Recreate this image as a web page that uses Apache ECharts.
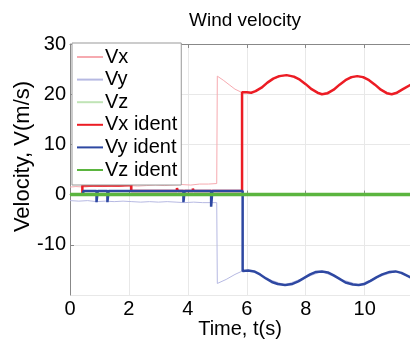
<!DOCTYPE html>
<html>
<head>
<meta charset="utf-8">
<script src="https://cdn.jsdelivr.net/npm/echarts@6/dist/echarts.min.js"></script>
<style>
  html, body { margin: 0; padding: 0; background: #fff; }
  #chart { width: 410px; height: 340px; }
</style>
</head>
<body>
<div id="chart"></div>
<script>
const vx = [
  [0, 1.5], [0.2, 1.6], [0.5, 1.5], [0.8, 1.7], [1.1, 1.6], [1.4, 1.7], [1.7, 1.6], [2.0, 1.8],
  [2.3, 1.7], [2.6, 1.8], [2.9, 1.9], [3.2, 1.8], [3.5, 1.9], [3.8, 2.0], [4.1, 1.9], [4.4, 2.1],
  [4.7, 2.1], [4.98, 2.2], [5.0, 23.6], [5.2, 22.8], [5.4, 21.9], [5.6, 21.0], [5.85, 20.3],
  [6.15, 20.3], [6.5, 21.3], [6.9, 23.1], [7.35, 23.8], [7.8, 22.9], [8.2, 21.0], [8.55, 20.0],
  [8.95, 20.9], [9.35, 22.8], [9.75, 23.6], [10.15, 22.8], [10.55, 20.9], [10.92, 20.0],
  [11.3, 21.0], [11.6, 22.0]
];
const vy = [
  [0, -1.2], [0.3, -1.3], [0.6, -1.2], [0.9, -1.4], [1.2, -1.3], [1.5, -1.4], [1.8, -1.3],
  [2.1, -1.4], [2.4, -1.5], [2.7, -1.4], [3.0, -1.5], [3.3, -1.4], [3.6, -1.5], [3.9, -1.6],
  [4.2, -1.5], [4.5, -1.6], [4.98, -1.6], [5.0, -17.7], [5.3, -16.9], [5.6, -15.9], [5.86, -15.2],
  [6.25, -15.3], [6.65, -16.7], [7.3, -18.0], [7.95, -16.6], [8.55, -15.3], [9.15, -16.8],
  [9.8, -18.0], [10.4, -16.5], [11.05, -15.3], [11.6, -16.6]
];
const vz = [
  [0, 0.1], [1.5, 0], [3.0, 0.1], [4.5, 0], [6.0, 0.1], [7.5, 0.2], [9.0, 0.1], [10.5, 0], [11.6, 0.1]
];
const vxIdent = [
  [0, 0], [0.42, 0], [0.42, 1.8], [0.85, 1.8], [0.85, 1.6], [0.88, 1.8], [1.65, 1.8], [1.65, 1.5],
  [1.68, 1.8], [2.08, 1.9], [2.08, 0.7], [3.63, 0.7], [3.63, 1.3], [3.66, 0.7], [4.17, 0.7],
  [4.17, 1.2], [4.2, 0.7], [5.84, 0.7], [5.84, 20.4], [6.0, 20.4], [6.15, 20.3], [6.3, 20.6],
  [6.5, 21.3], [6.7, 22.3], [6.9, 23.1], [7.1, 23.6], [7.35, 23.8], [7.6, 23.5], [7.8, 22.9],
  [8.0, 22.0], [8.2, 21.0], [8.4, 20.3], [8.55, 20.0], [8.75, 20.2], [8.95, 20.9], [9.15, 21.9],
  [9.35, 22.8], [9.55, 23.4], [9.75, 23.6], [9.95, 23.4], [10.15, 22.8], [10.35, 21.9],
  [10.55, 20.9], [10.75, 20.2], [10.92, 20.0], [11.1, 20.3], [11.3, 21.0], [11.6, 22.0]
];
const vyIdent = [
  [0, 0], [0.45, 0], [0.45, 0.7], [0.9, 0.7], [0.9, -1.5], [0.94, -1.5], [0.94, 0.7],
  [1.27, 0.7], [1.27, -1.5], [1.31, -1.5], [1.31, 0.7], [3.85, 0.7], [3.85, -1.5], [3.89, -1.5],
  [3.89, 0.7], [4.79, 0.7], [4.79, -2.4], [4.83, -2.4], [4.83, 0.7], [5.86, 0.7], [5.86, -15.2],
  [6.05, -15.1], [6.25, -15.3], [6.45, -15.9], [6.65, -16.7], [6.85, -17.4], [7.05, -17.8],
  [7.3, -18.0], [7.55, -17.8], [7.75, -17.3], [7.95, -16.6], [8.15, -15.9], [8.35, -15.4],
  [8.55, -15.3], [8.75, -15.5], [8.95, -16.1], [9.15, -16.8], [9.35, -17.5], [9.6, -17.9],
  [9.8, -18.0], [10.0, -17.8], [10.2, -17.2], [10.4, -16.5], [10.6, -15.9], [10.85, -15.4],
  [11.05, -15.3], [11.25, -15.6], [11.6, -16.6]
];
const vzIdent = [[0, 0], [11.6, 0]];

const xTicks = [0, 2, 4, 6, 8, 10];
const yTicks = [-20, -10, 0, 10, 20, 30];

const font = "'Liberation Sans', Arial, sans-serif";
const chart = echarts.init(document.getElementById('chart'));

const mk = (name, data, color, width) => ({
  name, type: 'line', data, symbol: 'none', animation: false,
  lineStyle: { color, width }, itemStyle: { color }
});

chart.setOption({
  textStyle: { fontFamily: font },
  title: {
    text: 'Wind velocity', left: 184, top: 6,
    textStyle: { fontFamily: font, fontSize: 19, fontWeight: 'normal', color: '#000' }
  },
  grid: { left: 70, right: 0, top: 44, bottom: 45, outerBoundsMode: 'none' },
  legend: {
    orient: 'vertical', left: 72, top: 43,
    padding: [4, 4, 5, 4], itemGap: 2.6, itemWidth: 26, itemHeight: 12,
    backgroundColor: '#fff', borderColor: '#999', borderWidth: 1,
    itemStyle: { opacity: 0 },
    textStyle: { fontFamily: font, fontSize: 20, lineHeight: 20, color: '#000', padding: [0, 0, 0, -3] }
  },
  xAxis: [{
    type: 'value', min: xTicks[0], max: 11.54, interval: 2,
    name: 'Time, t(s)', nameLocation: 'middle', nameGap: 24, nameMoveOverlap: false,
    nameTextStyle: { fontFamily: font, fontSize: 20, color: '#000' },
    axisLine: { lineStyle: { color: '#888' } },
    axisTick: { inside: true, length: 4, lineStyle: { color: '#888' } },
    axisLabel: { fontFamily: font, fontSize: 20, color: '#000', margin: 4,
      formatter: v => xTicks.includes(v) ? String(v) : '' },
    splitLine: { lineStyle: { color: '#e8e8e8' } }
  }, {
    type: 'value', position: 'top', min: 0, max: 11.54, interval: 2,
    axisLine: { lineStyle: { color: '#888' } },
    axisTick: { inside: true, length: 4, lineStyle: { color: '#888' } },
    axisLabel: { show: false }, splitLine: { show: false }
  }],
  yAxis: {
    type: 'value', min: yTicks[0], max: 30, interval: 10,
    name: 'Velocity, V(m/s)', nameLocation: 'middle', nameGap: 36, nameMoveOverlap: false,
    nameTextStyle: { fontFamily: font, fontSize: 22, color: '#000', padding: [0, 0, 0, 26] },
    axisLine: { show: true, lineStyle: { color: '#888' } },
    axisTick: { show: true, inside: true, length: 4, lineStyle: { color: '#888' } },
    axisLabel: { fontFamily: font, fontSize: 20, color: '#000', margin: 4, showMinLabel: false },
    splitLine: { lineStyle: { color: '#e8e8e8' } }
  },
  series: [
    mk('Vx', vx, '#f6aab0', 1),
    mk('Vy', vy, '#b6b9e2', 1),
    mk('Vz', vz, '#c0e4b6', 1),
    mk('Vx ident', vxIdent, '#ec1c24', 2.5),
    mk('Vy ident', vyIdent, '#2e48a2', 2.5),
    mk('Vz ident', vzIdent, '#5bb53f', 3.5)
  ]
});
</script>
</body>
</html>
